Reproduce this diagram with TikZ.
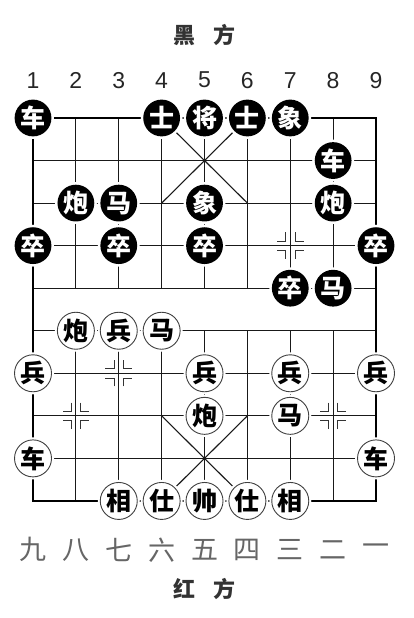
\documentclass[tikz,border=0pt]{standalone}
\usepackage{fontspec}
\setsansfont{Liberation Sans}
\newfontfamily\cjk{Noto Sans CJK SC}

\tikzset{
  gridline/.style={line width=1.1pt, black!90},
  edgeline/.style={line width=1.7pt, black},
  posmark/.style={line width=0.9pt, black!80},
  blackpiece/.style={circle, fill=black, text=white, minimum size=36.8pt,
    inner sep=0pt, font=\cjk\bfseries\fontsize{25}{25}\selectfont,
    preaction={draw=white, line width=5pt}},
  redpiece/.style={circle, fill=white, draw=black!75, line width=0.9pt,
    minimum size=37pt, inner sep=0pt, text=black,
    font=\cjk\bfseries\fontsize{25}{25}\selectfont,
    preaction={draw=white, line width=5pt}},
  numlabel/.style={font=\sffamily\fontsize{23}{23}\selectfont, text=black!85},
  cnlabel/.style={font=\cjk\fontsize{27}{27}\selectfont, text=black!60},
  sidetitle/.style={font=\cjk\bfseries\fontsize{22}{22}\selectfont, text=black!80}
}

\begin{document}
\begin{tikzpicture}[x=42.875pt, y=-42.55pt]

    % Keep the margins of the page
    \useasboundingbox (-0.77,-2.773) rectangle (8.863,11.751);

    % Gap and arm length of the position marks
    \pgfmathsetmacro{\gap}{0.11}
    \pgfmathsetmacro{\arm}{0.2}

    % Horizontal lines of the board
    \foreach \y in {1, ..., 8}{
      \draw[gridline] (0,\y) -- (8,\y);
    }

    % Vertical lines, broken by the river
    \foreach \x in {1, ..., 7}{
      \draw[gridline] (\x,0) -- (\x,4);
      \draw[gridline] (\x,5) -- (\x,9);
    }

    % Outer edge of the board
    \draw[edgeline] (0,0) rectangle (8,9);

    % The two palaces
    \draw[gridline] (3,0) -- (5,2) (5,0) -- (3,2);
    \draw[gridline] (3,7) -- (5,9) (5,7) -- (3,9);

    % Position marks on empty points
    \foreach \mx/\my in {6/3, 2/6, 1/7, 7/7}{
      \foreach \sx/\sy in {1/1, 1/-1, -1/1, -1/-1}{
        \draw[posmark] (\mx+\sx*\gap, \my+\sy*\gap+\sy*\arm)
          -- (\mx+\sx*\gap, \my+\sy*\gap)
          -- (\mx+\sx*\gap+\sx*\arm, \my+\sy*\gap);
      }
    }

    % Black pieces
    \foreach \x/\y/\t in {0/0/车, 3/0/士, 4/0/将, 5/0/士, 6/0/象,
                          7/1/车, 1/2/炮, 2/2/马, 4/2/象, 7/2/炮,
                          0/3/卒, 2/3/卒, 4/3/卒, 8/3/卒, 6/4/卒, 7/4/马}{
      \node[blackpiece] (blk\x\y) at (\x,\y) {\t};
    }

    % Red pieces
    \foreach \x/\y/\t in {1/5/炮, 2/5/兵, 3/5/马,
                          0/6/兵, 4/6/兵, 6/6/兵, 8/6/兵,
                          4/7/炮, 6/7/马, 0/8/车, 8/8/车,
                          2/9/相, 3/9/仕, 4/9/帅, 5/9/仕, 6/9/相}{
      \node[redpiece] (red\x\y) at (\x,\y) {\t};
    }

    % File numbers for black (top)
    \foreach \x [count=\n] in {0, ..., 8}{
      \node[numlabel] (num\n) at (\x,-0.89) {\n};
    }

    % File numbers for red (bottom)
    \foreach \t [count=\n from 0] in {九,八,七,六,五,四,三,二,一}{
      \node[cnlabel] (cn\n) at (\n,10.15) {\t};
    }

    % Side titles
    \node[sidetitle] (blacktitle) at (4,-1.95) {黑\hspace{0.8em}方};
    \node[sidetitle] (redtitle) at (4,11.07) {红\hspace{0.8em}方};

  \end{tikzpicture}
\end{document}
